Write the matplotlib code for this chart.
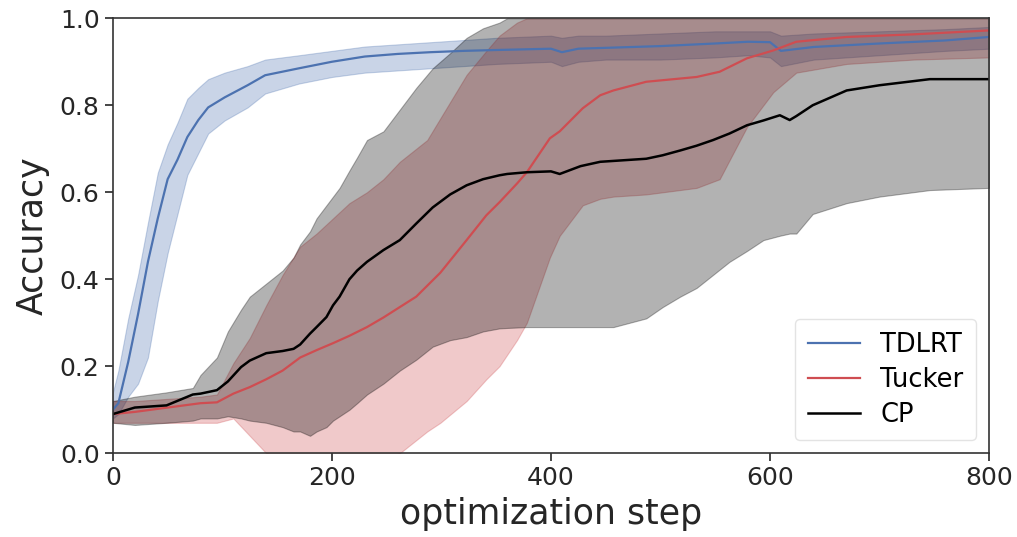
import matplotlib
matplotlib.use("Agg")
import matplotlib.pyplot as plt
import numpy as np

# TDLRT
tdlrt_step = [0, 5, 14, 23, 32, 41, 50, 59, 68, 78,
              87, 102, 123, 139, 170, 200, 230, 260, 290, 320,
              350, 400, 410, 425, 450, 500, 550, 580, 600, 610,
              640, 700, 760, 800]
tdlrt_mean = [0.10, 0.115, 0.21, 0.32, 0.44, 0.54, 0.63, 0.675, 0.727, 0.766,
              0.795, 0.818, 0.846, 0.869, 0.885, 0.90, 0.912, 0.918, 0.922, 0.925,
              0.927, 0.93, 0.922, 0.93, 0.932, 0.936, 0.942, 0.946, 0.945, 0.925,
              0.934, 0.942, 0.949, 0.957]
tdlrt_low = [0.08, 0.09, 0.13, 0.16, 0.22, 0.35, 0.46, 0.55, 0.64, 0.69,
             0.735, 0.765, 0.795, 0.827, 0.85, 0.865, 0.875, 0.88, 0.885, 0.89,
             0.895, 0.90, 0.89, 0.90, 0.905, 0.905, 0.91, 0.915, 0.91, 0.89,
             0.905, 0.915, 0.925, 0.93]
tdlrt_high = [0.14, 0.19, 0.31, 0.41, 0.53, 0.645, 0.71, 0.76, 0.815, 0.84,
              0.86, 0.875, 0.89, 0.905, 0.915, 0.925, 0.935, 0.94, 0.945, 0.95,
              0.955, 0.96, 0.955, 0.96, 0.96, 0.965, 0.97, 0.97, 0.97, 0.96,
              0.965, 0.97, 0.975, 0.98]

# Tucker
tucker_step = [0, 20, 50, 80, 95, 110, 125, 140, 155, 171,
               186, 201, 216, 232, 247, 262, 277, 287, 299, 323,
               341, 353, 369, 378, 399, 408, 429, 445, 457, 487,
               533, 554, 579, 603, 624, 670, 731, 800]
tucker_mean = [0.09, 0.095, 0.105, 0.115, 0.117, 0.137, 0.152, 0.17, 0.19, 0.22,
               0.237, 0.253, 0.27, 0.29, 0.312, 0.336, 0.36, 0.385, 0.415, 0.49,
               0.547, 0.577, 0.62, 0.646, 0.724, 0.74, 0.793, 0.823, 0.834, 0.854,
               0.865, 0.877, 0.908, 0.926, 0.946, 0.957, 0.963, 0.972]
tucker_low = [0.07, 0.07, 0.07, 0.07, 0.07, 0.08, 0.04, 0.0, -0.01, -0.01,
              -0.01, -0.01, -0.01, -0.01, -0.01, 0.0, 0.03, 0.05, 0.07, 0.12,
              0.17, 0.2, 0.26, 0.30, 0.45, 0.5, 0.57, 0.585, 0.59, 0.595,
              0.61, 0.63, 0.75, 0.83, 0.875, 0.895, 0.905, 0.91]
tucker_high = [0.12, 0.12, 0.125, 0.13, 0.135, 0.207, 0.265, 0.34, 0.41, 0.475,
               0.505, 0.54, 0.575, 0.60, 0.63, 0.67, 0.70, 0.72, 0.77, 0.87,
               0.925, 0.96, 0.99, 1.0, 1.0, 1.0, 1.0, 1.0, 1.0, 1.0,
               1.0, 1.0, 1.0, 1.0, 1.0, 1.0, 1.0, 1.0]

# CP
cp_step = [0, 20, 49, 73, 80, 95, 105, 117, 125, 140,
           155, 165, 171, 180, 186, 195, 201, 207, 216, 223,
           232, 247, 262, 277, 292, 308, 323, 338, 353, 360,
           378, 400, 408, 427, 445, 457, 487, 502, 518, 533,
           548, 563, 579, 594, 609, 618, 624, 639, 670, 700,
           746, 800]
cp_mean = [0.09, 0.105, 0.11, 0.135, 0.137, 0.145, 0.165, 0.198, 0.213, 0.23,
           0.235, 0.24, 0.25, 0.275, 0.29, 0.313, 0.34, 0.36, 0.40, 0.42,
           0.44, 0.467, 0.49, 0.528, 0.565, 0.595, 0.616, 0.63, 0.639, 0.642,
           0.646, 0.648, 0.642, 0.66, 0.67, 0.672, 0.677, 0.685, 0.696, 0.707,
           0.72, 0.735, 0.754, 0.765, 0.777, 0.766, 0.775, 0.80, 0.834, 0.846,
           0.86, 0.86]
cp_low = [0.07, 0.065, 0.07, 0.075, 0.08, 0.08, 0.085, 0.08, 0.075, 0.07,
          0.06, 0.05, 0.05, 0.04, 0.05, 0.06, 0.075, 0.085, 0.10, 0.115,
          0.135, 0.16, 0.19, 0.215, 0.245, 0.26, 0.267, 0.28, 0.287, 0.288,
          0.29, 0.29, 0.29, 0.29, 0.29, 0.29, 0.31, 0.336, 0.36, 0.38,
          0.41, 0.44, 0.465, 0.49, 0.50, 0.505, 0.505, 0.55, 0.575, 0.59,
          0.605, 0.61]
cp_high = [0.12, 0.13, 0.14, 0.15, 0.18, 0.22, 0.28, 0.33, 0.36, 0.39,
           0.42, 0.45, 0.48, 0.51, 0.54, 0.57, 0.59, 0.61, 0.65, 0.68,
           0.72, 0.74, 0.79, 0.84, 0.885, 0.92, 0.955, 0.977, 0.99, 1.0,
           1.0, 1.0, 1.0, 1.0, 1.0, 1.0, 1.0, 1.0, 1.0, 1.0,
           1.0, 1.0, 1.0, 1.0, 1.0, 1.0, 1.0, 1.0, 1.0, 1.0,
           1.0, 1.0]

blue = '#4C72B0'
red = '#CF4D51'
black = 'black'

plt.rcParams['font.family'] = ['DejaVu Sans']

fig = plt.figure(figsize=(10.17, 5.37), dpi=100)
ax = fig.add_axes([0.111, 0.156, 0.8615, 0.81])

# bands first, lines on top
ax.fill_between(tdlrt_step, tdlrt_low, tdlrt_high, color=blue, alpha=0.3, lw=0.8)
ax.fill_between(tucker_step, tucker_low, tucker_high, color=red, alpha=0.3, lw=0.8)
ax.fill_between(cp_step, cp_low, cp_high, color=black, alpha=0.3, lw=0.8)

ax.plot(tdlrt_step, tdlrt_mean, color=blue, lw=1.6, label='TDLRT')
ax.plot(tucker_step, tucker_mean, color=red, lw=1.6, label='Tucker')
ax.plot(cp_step, cp_mean, color=black, lw=1.8, label='CP')

ax.set_xlim(0, 800)
ax.set_ylim(0, 1.0)
ax.set_xticks([0, 200, 400, 600, 800])
ax.set_yticks([0.0, 0.2, 0.4, 0.6, 0.8, 1.0])
ax.tick_params(labelsize=18, length=6, width=1.2, colors='#262626')
for s in ax.spines.values():
    s.set_linewidth(1.2)
    s.set_color('#333333')

ax.set_xlabel('optimization step', fontsize=25, color='#262626', labelpad=5)
ax.set_ylabel('Accuracy', fontsize=25, color='#262626', labelpad=7)

leg = ax.legend(loc='lower right', fontsize=18.5, frameon=True, framealpha=0.8,
                edgecolor='#dddddd', borderpad=0.5, labelspacing=0.35)

fig.savefig('out.png', dpi=100)
